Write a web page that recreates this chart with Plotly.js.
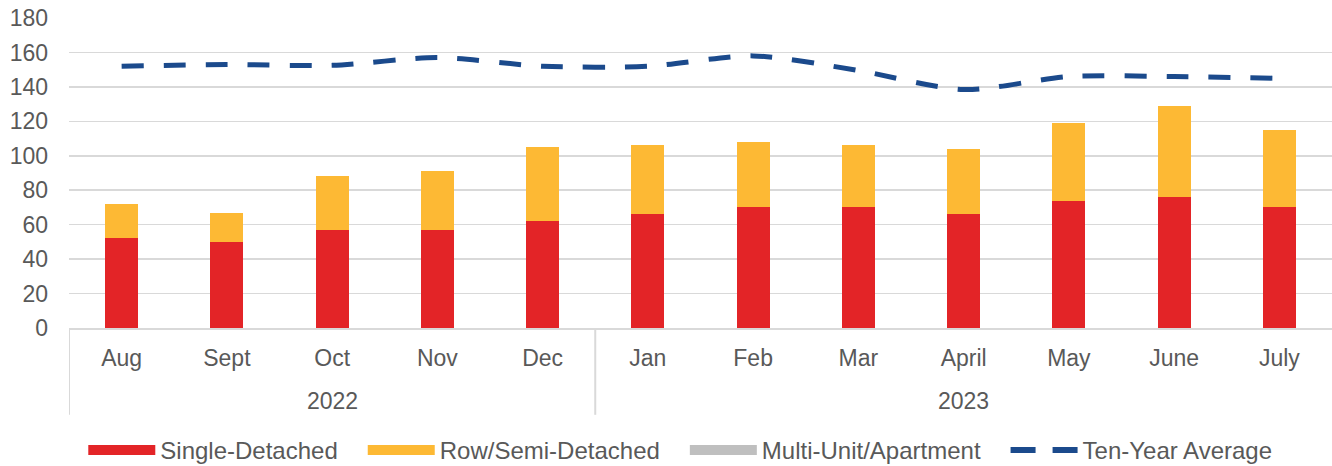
<!DOCTYPE html>
<html>
<head>
<meta charset="utf-8">
<script src="https://cdn.plot.ly/plotly-3.0.1.min.js"></script>
<style>html,body{margin:0;padding:0;background:#fff}#chart{width:1332px;height:466px}</style>
</head>
<body>
<div id="chart"></div>
<script>
var years = ["2022","2022","2022","2022","2022","2023","2023","2023","2023","2023","2023","2023"];
var months = ["Aug","Sept","Oct","Nov","Dec","Jan","Feb","Mar","April","May","June","July"];
var singleDetached = [52, 50, 57, 57, 62, 66, 70, 70, 66, 74, 76, 70];
var rowSemi = [20, 17, 31, 34, 43, 40, 38, 36, 38, 45, 53, 45];
var multiUnit = [0, 0, 0, 0, 0, 0, 0, 0, 0, 0, 0, 0];
var tenYearAvg = [152, 153, 152.5, 157, 152, 152, 158, 149.5, 138.5, 146, 146, 145];

var RED = "#E32427", ORANGE = "#FDB934", GREY = "#BFBFBF", NAVY = "#1B4A8C";
var font = {family: "Liberation Sans, Arial, sans-serif", size: 23, color: "#595959"};
var legendFont = {family: "Liberation Sans, Arial, sans-serif", size: 24, color: "#595959"};
var PAD = "\u00a0\u00a0\u00a0";

var traces = [
  {type: "bar", name: "Single-Detached", x: months, y: singleDetached, marker: {color: RED}, showlegend: false},
  {type: "bar", name: "Row/Semi-Detached", x: months, y: rowSemi, marker: {color: ORANGE}, showlegend: false},
  {type: "bar", name: "Multi-Unit/Apartment", x: months, y: multiUnit, marker: {color: GREY}, showlegend: false},
  {type: "scatter", mode: "lines", name: "Ten-Year Average", x: months, y: tenYearAvg, showlegend: false,
   line: {color: NAVY, width: 5, dash: "22px,20px", shape: "spline", smoothing: 0.8}}
];
// legend entries (wide swatches like the original)
[["Single-Detached", RED], ["Row/Semi-Detached", ORANGE], ["Multi-Unit/Apartment", GREY]].forEach(function (e) {
  traces.push({type: "scatter", mode: "lines", name: e[0] + PAD, x: [null], y: [null],
               line: {color: e[1], width: 13}, showlegend: true, hoverinfo: "skip"});
});
traces.push({type: "scatter", mode: "lines", name: "Ten-Year Average", x: [null], y: [null],
             line: {color: NAVY, width: 6, dash: "25px,17px"}, showlegend: true, hoverinfo: "skip"});

// year group labels and dividers from the years array
var groups = [];
years.forEach(function (y, i) {
  if (!groups.length || groups[groups.length - 1].name !== y) groups.push({name: y, start: i, end: i});
  else groups[groups.length - 1].end = i;
});
var annotations = groups.map(function (g) {
  return {text: g.name, x: (g.start + g.end) / 2, xref: "x", y: -0.2355, yref: "paper",
          yanchor: "middle", showarrow: false, font: font};
});
var shapes = groups.map(function (g) {
  return {type: "line", xref: "x", yref: "paper", x0: g.start - 0.5, x1: g.start - 0.5,
          y0: 0, y1: -0.28, line: {color: "#D9D9D9", width: 2}};
});

var layout = {
  width: 1332, height: 466,
  margin: {l: 69, r: 0, t: 18, b: 138, autoexpand: false},
  paper_bgcolor: "#fff", plot_bgcolor: "#fff",
  barmode: "stack", bargap: 0.687,
  font: font,
  showlegend: true,
  legend: {orientation: "h", x: 0.484, xanchor: "center", y: -0.395, yanchor: "middle",
           font: legendFont, itemwidth: 67, traceorder: "normal"},
  xaxis: {type: "category", showgrid: false, showline: true, linecolor: "#D9D9D9", linewidth: 2,
          ticks: "", tickfont: font, ticklabelstandoff: 8, range: [-0.5, 11.5]},
  yaxis: {range: [0, 180], dtick: 20, showgrid: true, gridcolor: "#D9D9D9", gridwidth: 1.5,
          zeroline: false, showline: false, ticks: "", tickfont: font, ticklabelstandoff: 20},
  annotations: annotations,
  shapes: shapes
};

Plotly.newPlot("chart", traces, layout, {displayModeBar: false, staticPlot: true});
</script>
</body>
</html>
